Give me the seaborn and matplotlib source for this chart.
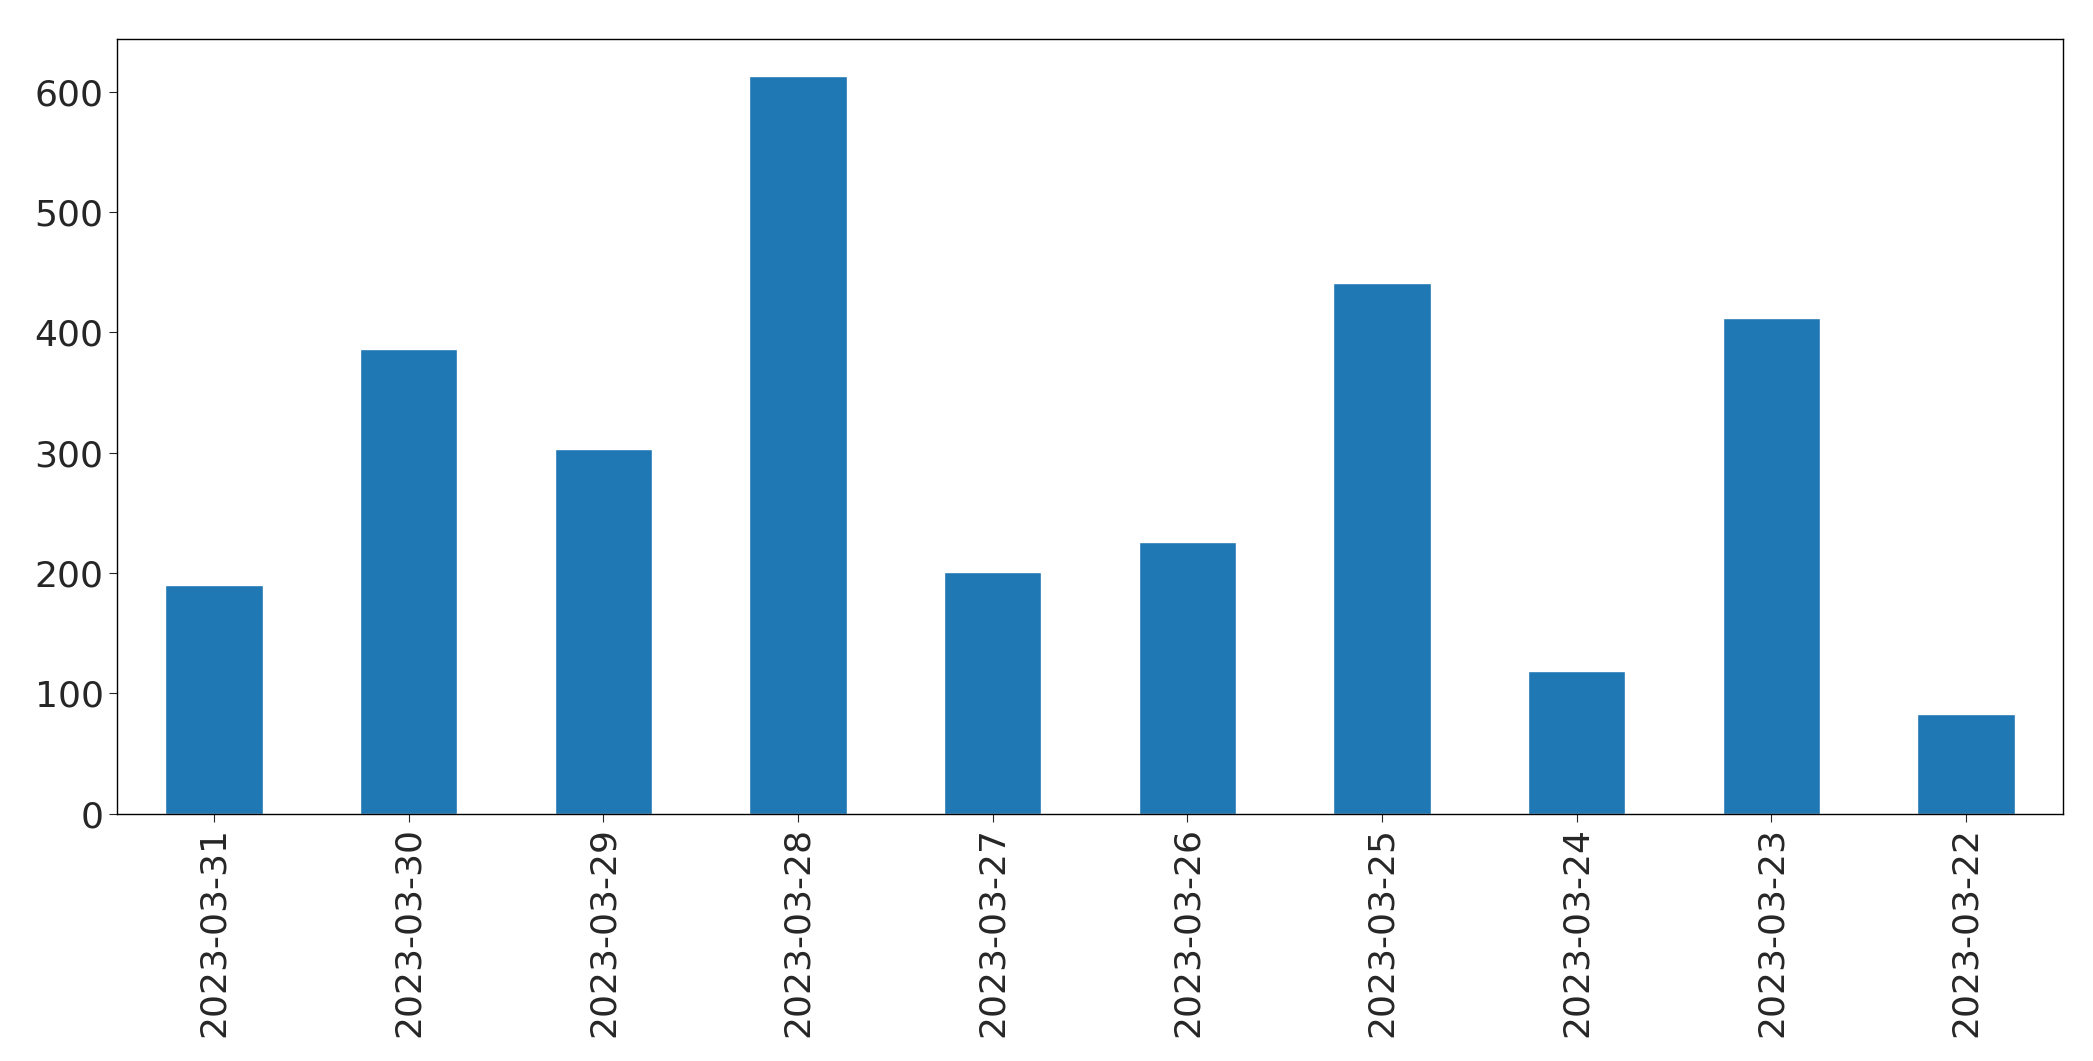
import matplotlib
matplotlib.use("Agg")
import matplotlib.pyplot as plt
import seaborn as sns
import pandas as pd

dates = ["2023-03-31", "2023-03-30", "2023-03-29", "2023-03-28", "2023-03-27",
         "2023-03-26", "2023-03-25", "2023-03-24", "2023-03-23", "2023-03-22"]
counts = [190, 386, 303, 613, 201, 226, 441, 119, 412, 83]

df = pd.DataFrame({"date": dates, "count": counts})

sns.set_style("white")
plt.rcParams['font.family'] = ['DejaVu Sans']
fig = plt.figure(figsize=(20.93, 10.61), dpi=100)
ax = fig.add_axes([87/1560, 1 - 606/790, (1538-87)/1560, (606-29)/790])
sns.barplot(data=df, x="date", y="count", color="#1f77b4", saturation=1, width=0.5, ax=ax)
ax.set_xlim(-0.5, len(dates) - 0.5)
ax.set_xlabel("")
ax.set_ylabel("")
ax.tick_params(axis="both", labelsize=26, length=6, left=True, bottom=True)
plt.setp(ax.get_xticklabels(), rotation=90)
for s in ax.spines.values():
    s.set_color("black")
    s.set_linewidth(1)
fig.savefig("out.png", dpi=100)
